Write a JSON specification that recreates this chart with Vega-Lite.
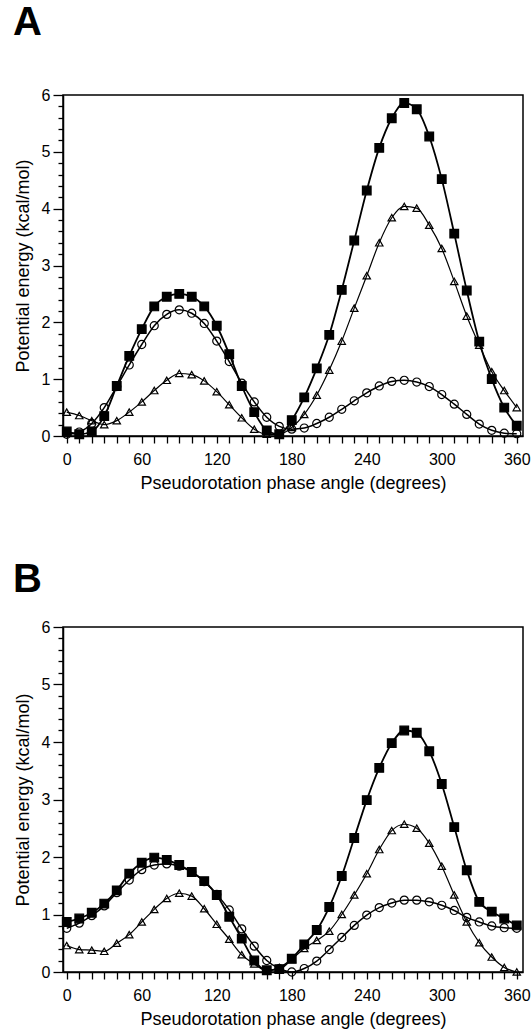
{
  "$schema": "https://vega.github.io/schema/vega-lite/v6.json",
  "padding": {"left": 12, "top": 2, "right": 0, "bottom": 0},
  "background": "white",
  "spacing": 66,
  "datasets": {
    "A": [
      {"angle": 0, "series": "sq", "E": 0.08}, {"angle": 10, "series": "sq", "E": 0.03}, {"angle": 20, "series": "sq", "E": 0.08}, {"angle": 30, "series": "sq", "E": 0.35}, {"angle": 40, "series": "sq", "E": 0.88}, {"angle": 50, "series": "sq", "E": 1.41}, {"angle": 60, "series": "sq", "E": 1.88}, {"angle": 70, "series": "sq", "E": 2.28}, {"angle": 80, "series": "sq", "E": 2.45}, {"angle": 90, "series": "sq", "E": 2.5}, {"angle": 100, "series": "sq", "E": 2.45}, {"angle": 110, "series": "sq", "E": 2.28}, {"angle": 120, "series": "sq", "E": 1.94}, {"angle": 130, "series": "sq", "E": 1.44}, {"angle": 140, "series": "sq", "E": 0.88}, {"angle": 150, "series": "sq", "E": 0.42}, {"angle": 160, "series": "sq", "E": 0.1}, {"angle": 170, "series": "sq", "E": 0.03}, {"angle": 180, "series": "sq", "E": 0.28}, {"angle": 190, "series": "sq", "E": 0.68}, {"angle": 200, "series": "sq", "E": 1.19}, {"angle": 210, "series": "sq", "E": 1.78}, {"angle": 220, "series": "sq", "E": 2.57}, {"angle": 230, "series": "sq", "E": 3.44}, {"angle": 240, "series": "sq", "E": 4.32}, {"angle": 250, "series": "sq", "E": 5.07}, {"angle": 260, "series": "sq", "E": 5.59}, {"angle": 270, "series": "sq", "E": 5.86}, {"angle": 280, "series": "sq", "E": 5.75}, {"angle": 290, "series": "sq", "E": 5.27}, {"angle": 300, "series": "sq", "E": 4.52}, {"angle": 310, "series": "sq", "E": 3.56}, {"angle": 320, "series": "sq", "E": 2.56}, {"angle": 330, "series": "sq", "E": 1.66}, {"angle": 340, "series": "sq", "E": 1.0}, {"angle": 350, "series": "sq", "E": 0.5}, {"angle": 360, "series": "sq", "E": 0.18},
      {"angle": 0, "series": "ci", "E": 0.03}, {"angle": 10, "series": "ci", "E": 0.07}, {"angle": 20, "series": "ci", "E": 0.22}, {"angle": 30, "series": "ci", "E": 0.5}, {"angle": 40, "series": "ci", "E": 0.87}, {"angle": 50, "series": "ci", "E": 1.25}, {"angle": 60, "series": "ci", "E": 1.61}, {"angle": 70, "series": "ci", "E": 1.94}, {"angle": 80, "series": "ci", "E": 2.14}, {"angle": 90, "series": "ci", "E": 2.22}, {"angle": 100, "series": "ci", "E": 2.16}, {"angle": 110, "series": "ci", "E": 1.98}, {"angle": 120, "series": "ci", "E": 1.67}, {"angle": 130, "series": "ci", "E": 1.31}, {"angle": 140, "series": "ci", "E": 0.93}, {"angle": 150, "series": "ci", "E": 0.6}, {"angle": 160, "series": "ci", "E": 0.33}, {"angle": 170, "series": "ci", "E": 0.17}, {"angle": 180, "series": "ci", "E": 0.12}, {"angle": 190, "series": "ci", "E": 0.14}, {"angle": 200, "series": "ci", "E": 0.22}, {"angle": 210, "series": "ci", "E": 0.33}, {"angle": 220, "series": "ci", "E": 0.47}, {"angle": 230, "series": "ci", "E": 0.62}, {"angle": 240, "series": "ci", "E": 0.76}, {"angle": 250, "series": "ci", "E": 0.88}, {"angle": 260, "series": "ci", "E": 0.96}, {"angle": 270, "series": "ci", "E": 0.98}, {"angle": 280, "series": "ci", "E": 0.95}, {"angle": 290, "series": "ci", "E": 0.87}, {"angle": 300, "series": "ci", "E": 0.73}, {"angle": 310, "series": "ci", "E": 0.56}, {"angle": 320, "series": "ci", "E": 0.38}, {"angle": 330, "series": "ci", "E": 0.21}, {"angle": 340, "series": "ci", "E": 0.1}, {"angle": 350, "series": "ci", "E": 0.05}, {"angle": 360, "series": "ci", "E": 0.04},
      {"angle": 0, "series": "tr", "E": 0.42}, {"angle": 10, "series": "tr", "E": 0.36}, {"angle": 20, "series": "tr", "E": 0.27}, {"angle": 30, "series": "tr", "E": 0.2}, {"angle": 40, "series": "tr", "E": 0.27}, {"angle": 50, "series": "tr", "E": 0.42}, {"angle": 60, "series": "tr", "E": 0.6}, {"angle": 70, "series": "tr", "E": 0.8}, {"angle": 80, "series": "tr", "E": 0.98}, {"angle": 90, "series": "tr", "E": 1.1}, {"angle": 100, "series": "tr", "E": 1.08}, {"angle": 110, "series": "tr", "E": 0.97}, {"angle": 120, "series": "tr", "E": 0.78}, {"angle": 130, "series": "tr", "E": 0.55}, {"angle": 140, "series": "tr", "E": 0.32}, {"angle": 150, "series": "tr", "E": 0.12}, {"angle": 160, "series": "tr", "E": 0.03}, {"angle": 170, "series": "tr", "E": 0.03}, {"angle": 180, "series": "tr", "E": 0.15}, {"angle": 190, "series": "tr", "E": 0.38}, {"angle": 200, "series": "tr", "E": 0.72}, {"angle": 210, "series": "tr", "E": 1.16}, {"angle": 220, "series": "tr", "E": 1.67}, {"angle": 230, "series": "tr", "E": 2.25}, {"angle": 240, "series": "tr", "E": 2.82}, {"angle": 250, "series": "tr", "E": 3.4}, {"angle": 260, "series": "tr", "E": 3.84}, {"angle": 270, "series": "tr", "E": 4.04}, {"angle": 280, "series": "tr", "E": 4.01}, {"angle": 290, "series": "tr", "E": 3.71}, {"angle": 300, "series": "tr", "E": 3.3}, {"angle": 310, "series": "tr", "E": 2.72}, {"angle": 320, "series": "tr", "E": 2.11}, {"angle": 330, "series": "tr", "E": 1.6}, {"angle": 340, "series": "tr", "E": 1.13}, {"angle": 350, "series": "tr", "E": 0.8}, {"angle": 360, "series": "tr", "E": 0.5}
    ],
    "B": [
      {"angle": 0, "series": "sq", "E": 0.87}, {"angle": 10, "series": "sq", "E": 0.93}, {"angle": 20, "series": "sq", "E": 1.03}, {"angle": 30, "series": "sq", "E": 1.19}, {"angle": 40, "series": "sq", "E": 1.42}, {"angle": 50, "series": "sq", "E": 1.71}, {"angle": 60, "series": "sq", "E": 1.9}, {"angle": 70, "series": "sq", "E": 1.99}, {"angle": 80, "series": "sq", "E": 1.95}, {"angle": 90, "series": "sq", "E": 1.86}, {"angle": 100, "series": "sq", "E": 1.74}, {"angle": 110, "series": "sq", "E": 1.58}, {"angle": 120, "series": "sq", "E": 1.34}, {"angle": 130, "series": "sq", "E": 0.96}, {"angle": 140, "series": "sq", "E": 0.58}, {"angle": 150, "series": "sq", "E": 0.2}, {"angle": 160, "series": "sq", "E": 0.03}, {"angle": 170, "series": "sq", "E": 0.05}, {"angle": 180, "series": "sq", "E": 0.23}, {"angle": 190, "series": "sq", "E": 0.48}, {"angle": 200, "series": "sq", "E": 0.73}, {"angle": 210, "series": "sq", "E": 1.13}, {"angle": 220, "series": "sq", "E": 1.67}, {"angle": 230, "series": "sq", "E": 2.33}, {"angle": 240, "series": "sq", "E": 2.99}, {"angle": 250, "series": "sq", "E": 3.55}, {"angle": 260, "series": "sq", "E": 3.98}, {"angle": 270, "series": "sq", "E": 4.2}, {"angle": 280, "series": "sq", "E": 4.16}, {"angle": 290, "series": "sq", "E": 3.84}, {"angle": 300, "series": "sq", "E": 3.27}, {"angle": 310, "series": "sq", "E": 2.52}, {"angle": 320, "series": "sq", "E": 1.77}, {"angle": 330, "series": "sq", "E": 1.22}, {"angle": 340, "series": "sq", "E": 1.05}, {"angle": 350, "series": "sq", "E": 0.93}, {"angle": 360, "series": "sq", "E": 0.81},
      {"angle": 0, "series": "ci", "E": 0.76}, {"angle": 10, "series": "ci", "E": 0.85}, {"angle": 20, "series": "ci", "E": 0.98}, {"angle": 30, "series": "ci", "E": 1.15}, {"angle": 40, "series": "ci", "E": 1.38}, {"angle": 50, "series": "ci", "E": 1.6}, {"angle": 60, "series": "ci", "E": 1.78}, {"angle": 70, "series": "ci", "E": 1.86}, {"angle": 80, "series": "ci", "E": 1.88}, {"angle": 90, "series": "ci", "E": 1.84}, {"angle": 100, "series": "ci", "E": 1.74}, {"angle": 110, "series": "ci", "E": 1.57}, {"angle": 120, "series": "ci", "E": 1.35}, {"angle": 130, "series": "ci", "E": 1.08}, {"angle": 140, "series": "ci", "E": 0.75}, {"angle": 150, "series": "ci", "E": 0.45}, {"angle": 160, "series": "ci", "E": 0.2}, {"angle": 170, "series": "ci", "E": 0.06}, {"angle": 180, "series": "ci", "E": 0.0}, {"angle": 190, "series": "ci", "E": 0.06}, {"angle": 200, "series": "ci", "E": 0.19}, {"angle": 210, "series": "ci", "E": 0.39}, {"angle": 220, "series": "ci", "E": 0.6}, {"angle": 230, "series": "ci", "E": 0.81}, {"angle": 240, "series": "ci", "E": 0.99}, {"angle": 250, "series": "ci", "E": 1.12}, {"angle": 260, "series": "ci", "E": 1.2}, {"angle": 270, "series": "ci", "E": 1.25}, {"angle": 280, "series": "ci", "E": 1.25}, {"angle": 290, "series": "ci", "E": 1.22}, {"angle": 300, "series": "ci", "E": 1.16}, {"angle": 310, "series": "ci", "E": 1.07}, {"angle": 320, "series": "ci", "E": 0.95}, {"angle": 330, "series": "ci", "E": 0.87}, {"angle": 340, "series": "ci", "E": 0.8}, {"angle": 350, "series": "ci", "E": 0.77}, {"angle": 360, "series": "ci", "E": 0.76},
      {"angle": 0, "series": "tr", "E": 0.46}, {"angle": 10, "series": "tr", "E": 0.39}, {"angle": 20, "series": "tr", "E": 0.38}, {"angle": 30, "series": "tr", "E": 0.36}, {"angle": 40, "series": "tr", "E": 0.5}, {"angle": 50, "series": "tr", "E": 0.65}, {"angle": 60, "series": "tr", "E": 0.87}, {"angle": 70, "series": "tr", "E": 1.09}, {"angle": 80, "series": "tr", "E": 1.28}, {"angle": 90, "series": "tr", "E": 1.37}, {"angle": 100, "series": "tr", "E": 1.32}, {"angle": 110, "series": "tr", "E": 1.1}, {"angle": 120, "series": "tr", "E": 0.83}, {"angle": 130, "series": "tr", "E": 0.57}, {"angle": 140, "series": "tr", "E": 0.3}, {"angle": 150, "series": "tr", "E": 0.14}, {"angle": 160, "series": "tr", "E": 0.02}, {"angle": 170, "series": "tr", "E": 0.08}, {"angle": 180, "series": "tr", "E": 0.22}, {"angle": 190, "series": "tr", "E": 0.41}, {"angle": 200, "series": "tr", "E": 0.55}, {"angle": 210, "series": "tr", "E": 0.71}, {"angle": 220, "series": "tr", "E": 1.0}, {"angle": 230, "series": "tr", "E": 1.34}, {"angle": 240, "series": "tr", "E": 1.71}, {"angle": 250, "series": "tr", "E": 2.13}, {"angle": 260, "series": "tr", "E": 2.46}, {"angle": 270, "series": "tr", "E": 2.57}, {"angle": 280, "series": "tr", "E": 2.5}, {"angle": 290, "series": "tr", "E": 2.24}, {"angle": 300, "series": "tr", "E": 1.84}, {"angle": 310, "series": "tr", "E": 1.34}, {"angle": 320, "series": "tr", "E": 0.87}, {"angle": 330, "series": "tr", "E": 0.51}, {"angle": 340, "series": "tr", "E": 0.26}, {"angle": 350, "series": "tr", "E": 0.08}, {"angle": 360, "series": "tr", "E": 0.0}
    ]
  },
  "vconcat": [
    {
      "title": {"text": "A", "anchor": "start", "frame": "group", "dx": -50, "fontSize": 40, "font": "Liberation Sans", "fontWeight": "bold", "offset": 44, "color": "black"},
      "width": 460,
      "height": 341,
      "data": {"name": "A"},
      "encoding": {
        "x": {"field": "angle", "type": "quantitative", "scale": {"domain": [-3, 365], "nice": false, "zero": false},
          "axis": {"values": [0,10,20,30,40,50,60,70,80,90,100,110,120,130,140,150,160,170,180,190,200,210,220,230,240,250,260,270,280,290,300,310,320,330,340,350,360], "labelExpr": "datum.value % 60 === 0 ? '' + datum.value : ''", "labelOverlap": false, "tickSize": 7, "labelPadding": 8, "title": "Pseudorotation phase angle (degrees)", "titlePadding": 7}},
        "y": {"field": "E", "type": "quantitative", "scale": {"domain": [0, 6], "nice": false},
          "axis": {"values": [0,0.2,0.4,0.6,0.8,1,1.2,1.4,1.6,1.8,2,2.2,2.4,2.6,2.8,3,3.2,3.4,3.6,3.8,4,4.2,4.4,4.6,4.8,5,5.2,5.4,5.6,5.8,6], "labelExpr": "datum.value % 1 === 0 ? '' + datum.value : ''", "labelOverlap": false, "tickSize": {"condition": {"test": "datum.value % 1 === 0", "value": 10}, "value": 5}, "labelPadding": 3, "title": "Potential energy (kcal/mol)", "titlePadding": 9}}
      },
      "layer": [
        {"mark": {"type": "line", "interpolate": "monotone", "color": "black"},
         "encoding": {"detail": {"field": "series"}, "strokeWidth": {"field": "series", "type": "nominal", "scale": {"domain": ["sq", "ci", "tr"], "range": [1.8, 1.2, 1.2]}, "legend": null}}},
        {"mark": {"type": "point", "stroke": "black", "strokeWidth": 1.2, "opacity": 1},
         "encoding": {
           "shape": {"field": "series", "type": "nominal", "scale": {"domain": ["sq", "ci", "tr"], "range": ["square", "circle", "triangle-up"]}, "legend": null},
           "fill": {"field": "series", "type": "nominal", "scale": {"domain": ["sq", "ci", "tr"], "range": ["black", "transparent", "transparent"]}, "legend": null},
           "size": {"field": "series", "type": "nominal", "scale": {"domain": ["sq", "ci", "tr"], "range": [75, 55, 45]}, "legend": null}
         }}
      ]
    },
    {
      "title": {"text": "B", "anchor": "start", "frame": "group", "dx": -50, "fontSize": 40, "font": "Liberation Sans", "fontWeight": "bold", "offset": 19, "color": "black"},
      "width": 460,
      "height": 345,
      "data": {"name": "B"},
      "encoding": {
        "x": {"field": "angle", "type": "quantitative", "scale": {"domain": [-3, 365], "nice": false, "zero": false},
          "axis": {"values": [0,10,20,30,40,50,60,70,80,90,100,110,120,130,140,150,160,170,180,190,200,210,220,230,240,250,260,270,280,290,300,310,320,330,340,350,360], "labelExpr": "datum.value % 60 === 0 ? '' + datum.value : ''", "labelOverlap": false, "tickSize": 7, "labelPadding": 8, "title": "Pseudorotation phase angle (degrees)", "titlePadding": 7}},
        "y": {"field": "E", "type": "quantitative", "scale": {"domain": [0, 6], "nice": false},
          "axis": {"values": [0,0.2,0.4,0.6,0.8,1,1.2,1.4,1.6,1.8,2,2.2,2.4,2.6,2.8,3,3.2,3.4,3.6,3.8,4,4.2,4.4,4.6,4.8,5,5.2,5.4,5.6,5.8,6], "labelExpr": "datum.value % 1 === 0 ? '' + datum.value : ''", "labelOverlap": false, "tickSize": {"condition": {"test": "datum.value % 1 === 0", "value": 10}, "value": 5}, "labelPadding": 3, "title": "Potential energy (kcal/mol)", "titlePadding": 9}}
      },
      "layer": [
        {"mark": {"type": "line", "interpolate": "monotone", "color": "black"},
         "encoding": {"detail": {"field": "series"}, "strokeWidth": {"field": "series", "type": "nominal", "scale": {"domain": ["sq", "ci", "tr"], "range": [1.8, 1.2, 1.2]}, "legend": null}}},
        {"mark": {"type": "point", "stroke": "black", "strokeWidth": 1.2, "opacity": 1},
         "encoding": {
           "shape": {"field": "series", "type": "nominal", "scale": {"domain": ["sq", "ci", "tr"], "range": ["square", "circle", "triangle-up"]}, "legend": null},
           "fill": {"field": "series", "type": "nominal", "scale": {"domain": ["sq", "ci", "tr"], "range": ["black", "transparent", "transparent"]}, "legend": null},
           "size": {"field": "series", "type": "nominal", "scale": {"domain": ["sq", "ci", "tr"], "range": [75, 55, 45]}, "legend": null}
         }}
      ]
    }
  ],
  "resolve": {"scale": {"strokeWidth": "independent"}},
  "config": {
    "font": "Liberation Sans",
    "view": {"stroke": "black", "strokeWidth": 1.5},
    "axis": {"domainColor": "black", "domainWidth": 1.5, "tickColor": "black", "tickWidth": 1.3, "labelColor": "black", "titleColor": "black", "grid": false, "labelFont": "Liberation Sans", "titleFont": "Liberation Sans", "labelFontSize": 16, "titleFontSize": 18, "titleFontWeight": "normal"}
  }
}
